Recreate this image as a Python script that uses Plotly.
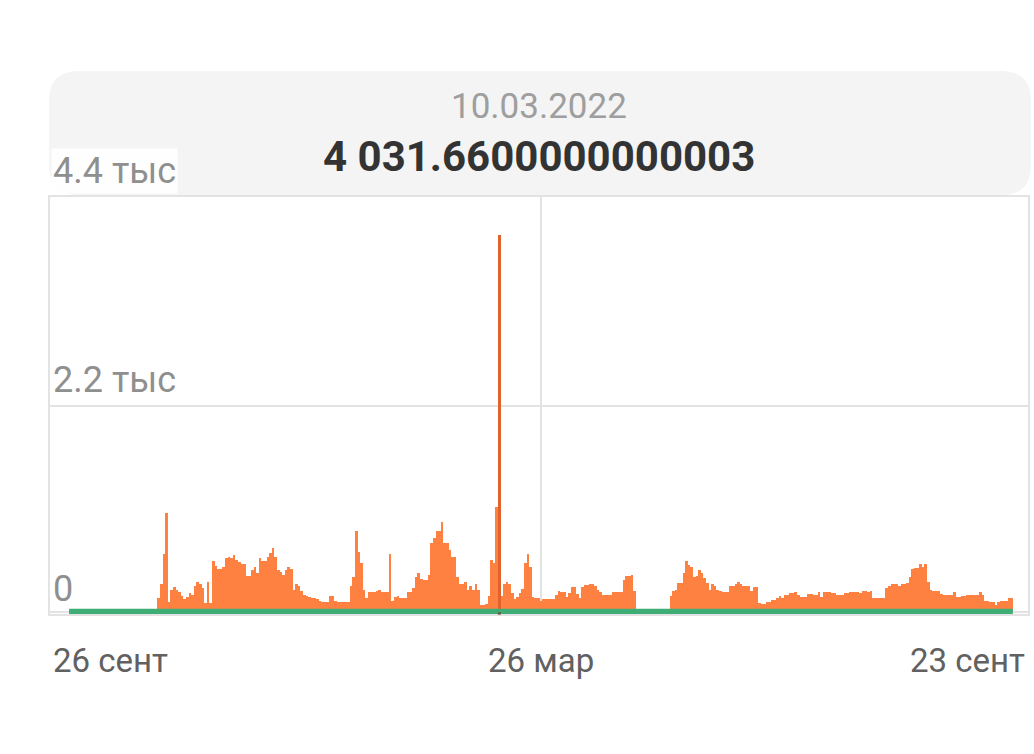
import pandas as pd
import plotly.graph_objects as go

# daily values, 26 Sep 2021 .. 23 Sep 2022
start_date = "2021-09-26"
end_date = "2022-09-23"
daily_values = [
    0, 0, 0, 0, 0, 0, 0, 0, 0, 0,
    0, 0, 0, 0, 0, 0, 0, 0, 0, 0,
    0, 0, 0, 0, 0, 0, 0, 0, 0, 0,
    0, 0, 0, 0, 147, 305, 620, 1060, 105, 240,
    265, 240, 210, 168, 137, 158, 200, 180, 275, 326,
    305, 260, 100, 326, 95, 550, 495, 460, 460, 485,
    580, 590, 580, 610, 560, 540, 515, 515, 390, 390,
    450, 485, 420, 580, 550, 550, 590, 630, 685, 590,
    450, 430, 400, 450, 485, 460, 240, 305, 275, 220,
    180, 168, 158, 147, 147, 137, 116, 105, 105, 105,
    168, 168, 116, 105, 105, 105, 105, 105, 275, 370,
    865, 640, 525, 240, 147, 210, 210, 210, 230, 240,
    210, 210, 210, 620, 116, 158, 168, 147, 147, 147,
    210, 210, 260, 370, 420, 355, 345, 345, 400, 740,
    790, 865, 865, 960, 740, 735, 665, 590, 590, 370,
    305, 305, 326, 240, 275, 240, 305, 240, 74, 74,
    84, 168, 560, 525, 1120, 4031.66, 168, 305, 326, 305,
    200, 137, 160, 200, 250, 525, 620, 485, 158, 147,
    147, 116, 137, 137, 137, 137, 137, 180, 230, 210,
    210, 158, 200, 263, 263, 190, 147, 263, 285, 285,
    305, 305, 275, 240, 210, 180, 180, 180, 180, 210,
    210, 210, 210, 345, 380, 380, 400, 230, 0, 0,
    0, 0, 0, 0, 0, 0, 0, 0, 0, 0,
    0, 168, 230, 240, 315, 315, 420, 550, 505, 485,
    370, 390, 450, 420, 360, 315, 240, 295, 275, 240,
    220, 210, 210, 210, 275, 275, 295, 326, 305, 275,
    275, 275, 230, 263, 263, 95, 84, 84, 105, 105,
    126, 126, 147, 168, 147, 180, 180, 200, 200, 210,
    180, 158, 158, 158, 190, 190, 180, 180, 210, 158,
    210, 210, 210, 200, 200, 180, 180, 180, 200, 200,
    210, 210, 210, 210, 200, 230, 230, 210, 230, 147,
    147, 147, 147, 147, 252, 275, 295, 295, 295, 275,
    295, 295, 315, 370, 460, 470, 470, 515, 485, 515,
    326, 240, 220, 220, 220, 190, 180, 180, 180, 180,
    210, 158, 158, 168, 168, 180, 180, 180, 180, 180,
    210, 180, 116, 116, 105, 105, 74, 105, 116, 116,
    116, 147, 147,
]
baseline_values = [0, 0]  # flat green series

selected_date = "2022-03-10"
selected_date_text = "10.03.2022"
selected_value_text = "4 031.6600000000003"

y_ticks = [0, 2200, 4400]
y_tick_labels = ["0", "2.2 тыс", "4.4 тыс"]
x_tick_dates = ["2021-09-26", "2022-03-26", "2022-09-23"]
x_tick_labels = ["26 сент", "26 мар", "23 сент"]

BAR = "#ff8142"
BAR_SEL = "#e2622c"
GREEN = "#3fae76"
GRID = "#e3e3e3"
FONT = "Roboto"

W, H = 1034, 754
L, R, T, B = 49, 5, 196, 139
PW, PH = W - L - R, H - T - B


def px_x(px):
    return (px - L) / PW


def px_y(py):
    return (H - B - py) / PH


dates = pd.date_range(start_date, end_date, freq="D")
assert len(dates) == len(daily_values)
sel = pd.Timestamp(selected_date)
colors = [BAR_SEL if d == sel else BAR for d in dates]

y_range = [-32, 4450]
x_range = [dates[0] - pd.Timedelta(hours=197), dates[0] + pd.Timedelta(hours=8849)]

fig = go.Figure()
fig.add_trace(go.Bar(x=dates, y=daily_values, marker=dict(color=colors, line=dict(width=0)),
                     hoverinfo="skip"))
fig.add_trace(go.Scatter(x=[dates[0] - pd.Timedelta(hours=12), dates[-1] + pd.Timedelta(hours=12)],
                         y=baseline_values, mode="lines", line=dict(color=GREEN, width=6.5),
                         hoverinfo="skip"))

# header card
x0, x1 = px_x(49), px_x(1031)
y0, y1 = px_y(195), px_y(71)
rx, ry = 30 / PW, 30 / PH
card = (f"M {x0 + rx},{y1} L {x1 - rx},{y1} Q {x1},{y1} {x1},{y1 - ry} "
        f"L {x1},{y0 + ry} Q {x1},{y0} {x1 - rx},{y0} L {x0 + rx},{y0} "
        f"Q {x0},{y0} {x0},{y0 + ry} L {x0},{y1 - ry} Q {x0},{y1} {x0 + rx},{y1} Z")
shapes = [
    dict(type="path", xref="paper", yref="paper", path=card,
         fillcolor="#f4f4f4", line=dict(width=0), layer="below"),
    dict(type="rect", xref="paper", yref="paper", x0=0, x1=1, y0=0, y1=1,
         line=dict(color=GRID, width=2), layer="above"),
    dict(type="line", xref="x", yref="y", x0=sel, x1=sel, y0=y_range[0], y1=0,
         line=dict(color="rgba(120,50,20,0.55)", width=3), layer="above"),
]

annotations = [
    dict(text=selected_date_text, xref="paper", yref="paper", x=0.5, y=px_y(107),
         yanchor="middle", showarrow=False, font=dict(family=FONT, size=35, color="#9e9e9e")),
    dict(text=f"<b>{selected_value_text}</b>", xref="paper", yref="paper", x=0.5, y=px_y(157),
         yanchor="middle", showarrow=False, font=dict(family=FONT, size=42, color="#333333")),
]
for v, lab, shift in zip(y_ticks, y_tick_labels, [23, 26, 30]):
    annotations.append(dict(text=lab, xref="paper", yref="y", x=0, y=v, xanchor="left",
                            yanchor="middle", xshift=2, yshift=shift, showarrow=False,
                            bgcolor="rgba(255,255,255,0.85)" if v == y_ticks[-1] else None,
                            font=dict(family=FONT, size=36, color="#8f8f8f")))
for i, (d, lab) in enumerate(zip(x_tick_dates, x_tick_labels)):
    if i == 0:
        pos = dict(xref="paper", x=0, xanchor="left", xshift=2)
    elif i == len(x_tick_dates) - 1:
        pos = dict(xref="paper", x=1, xanchor="right", xshift=-2)
    else:
        pos = dict(xref="x", x=d, xanchor="center")
    annotations.append(dict(text=lab, yref="paper", y=px_y(660), yanchor="middle",
                            showarrow=False, font=dict(family=FONT, size=33, color="#616161"),
                            **pos))

fig.update_layout(
    width=W, height=H,
    margin=dict(l=L, r=R, t=T, b=B),
    paper_bgcolor="white", plot_bgcolor="white",
    showlegend=False, bargap=0,
    shapes=shapes, annotations=annotations,
    xaxis=dict(type="date", range=x_range, tickvals=[x_tick_dates[1]], showticklabels=False,
               showgrid=True, gridcolor=GRID, gridwidth=2, zeroline=False, showline=False,
               fixedrange=True),
    yaxis=dict(range=y_range, tickvals=y_ticks[:2], showticklabels=False, showgrid=True,
               gridcolor=GRID, gridwidth=2, zeroline=False, showline=False, fixedrange=True),
)

# the page's default body margin would push the 1034x754 figure off the window
fig.write_html("out.html", config={"displayModeBar": False},
               post_script="document.body.style.margin='0';document.body.style.overflow='hidden';")
